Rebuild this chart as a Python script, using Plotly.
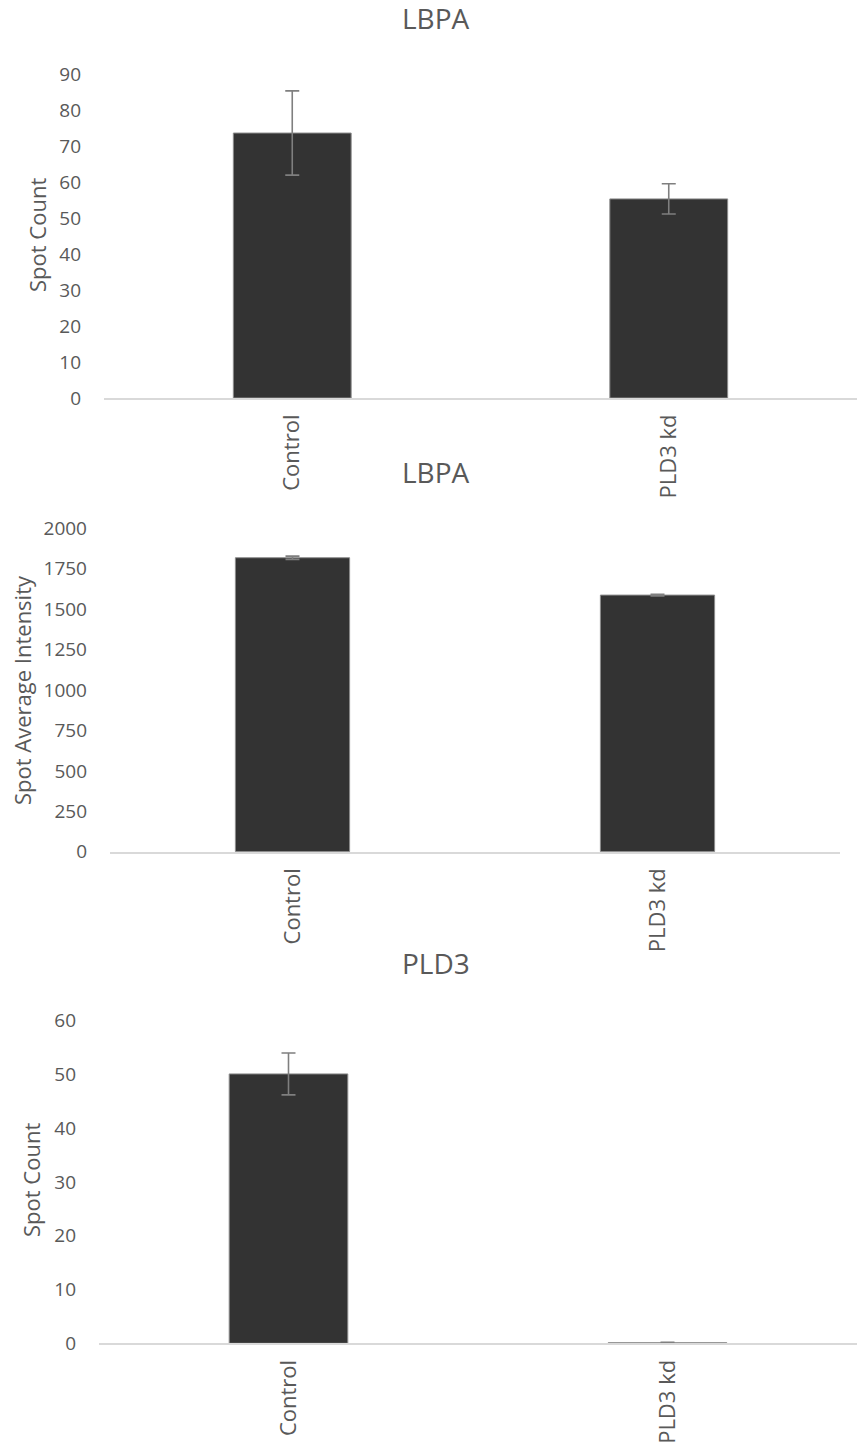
import plotly.graph_objects as go

categories = ["Control", "PLD3 kd"]

lbpa_count = [73.6, 55.3]
lbpa_count_err = [11.7, 4.2]

lbpa_intensity = [1818, 1587]
lbpa_intensity_err = [10, 5]

pld3_count = [50.1, 0.1]
pld3_count_err = [3.9, 0.1]

titles = ["LBPA", "LBPA", "PLD3"]
ytitles = ["Spot Count", "Spot Average Intensity", "Spot Count"]
yranges = [[0, 90], [0, 2000], [0, 60]]
dticks = [10, 250, 10]

W, H = 860, 1455
# pixel geometry of each panel: (x0, x1, ytop, ybottom)
panels = [(104, 857, 74, 398), (110, 840, 528.3, 851.7), (99, 857, 1020.7, 1343.3)]
title_y = [18, 472, 963]
ytitle_pos = [(37, 235), (22, 690), (31, 1180)]

series = [(lbpa_count, lbpa_count_err), (lbpa_intensity, lbpa_intensity_err), (pld3_count, pld3_count_err)]

FONT = "Open Sans"
TXT = "#595959"

fig = go.Figure()
layout = dict(
    width=W, height=H,
    margin=dict(l=0, r=0, t=0, b=0, pad=0, autoexpand=False),
    paper_bgcolor="white", plot_bgcolor="white",
    showlegend=False, bargap=0.687,
    font=dict(family=FONT, color=TXT, size=19),
)
annotations = []
for i, ((vals, errs), (x0, x1, yt, yb)) in enumerate(zip(series, panels)):
    n = i + 1
    xa = "x" if n == 1 else f"x{n}"
    ya = "y" if n == 1 else f"y{n}"
    fig.add_trace(go.Bar(
        x=categories, y=vals, xaxis=xa, yaxis=ya,
        marker=dict(color="#333333", line=dict(color="#8c8c8c", width=1)),
        error_y=dict(type="data", array=errs, visible=True, color="#7f7f7f", thickness=1.6, width=7),
    ))
    xkey = "xaxis" if n == 1 else f"xaxis{n}"
    ykey = "yaxis" if n == 1 else f"yaxis{n}"
    layout[xkey] = dict(
        domain=[x0 / W, x1 / W], anchor=ya, automargin=False,
        showline=True, linecolor="#d9d9d9", linewidth=1.5,
        showgrid=False, ticks="", tickangle=-90,
        tickfont=dict(family=FONT, size=22, color=TXT),
        ticklabelstandoff=6,
    )
    layout[ykey] = dict(
        domain=[1 - yb / H, 1 - yt / H], anchor=xa, automargin=False,
        range=yranges[i], dtick=dticks[i], tick0=0,
        showgrid=False, zeroline=False, showline=False, ticks="",
        tickfont=dict(family=FONT, size=19, color=TXT),
        ticklabelstandoff=22,
    )
    annotations.append(dict(
        text=titles[i], x=436 / W, y=1 - title_y[i] / H, xref="paper", yref="paper",
        xanchor="center", yanchor="middle", showarrow=False,
        font=dict(family=FONT, size=28, color=TXT),
    ))
    ax, ay = ytitle_pos[i]
    annotations.append(dict(
        text=ytitles[i], x=ax / W, y=1 - ay / H, xref="paper", yref="paper",
        xanchor="center", yanchor="middle", showarrow=False, textangle=-90,
        font=dict(family=FONT, size=22, color=TXT),
    ))

layout["annotations"] = annotations
fig.update_layout(**layout)
fig.write_html(
    "out.html",
    config={"displayModeBar": False},
    post_script="document.documentElement.style.margin='0';document.body.style.margin='0';",
)
